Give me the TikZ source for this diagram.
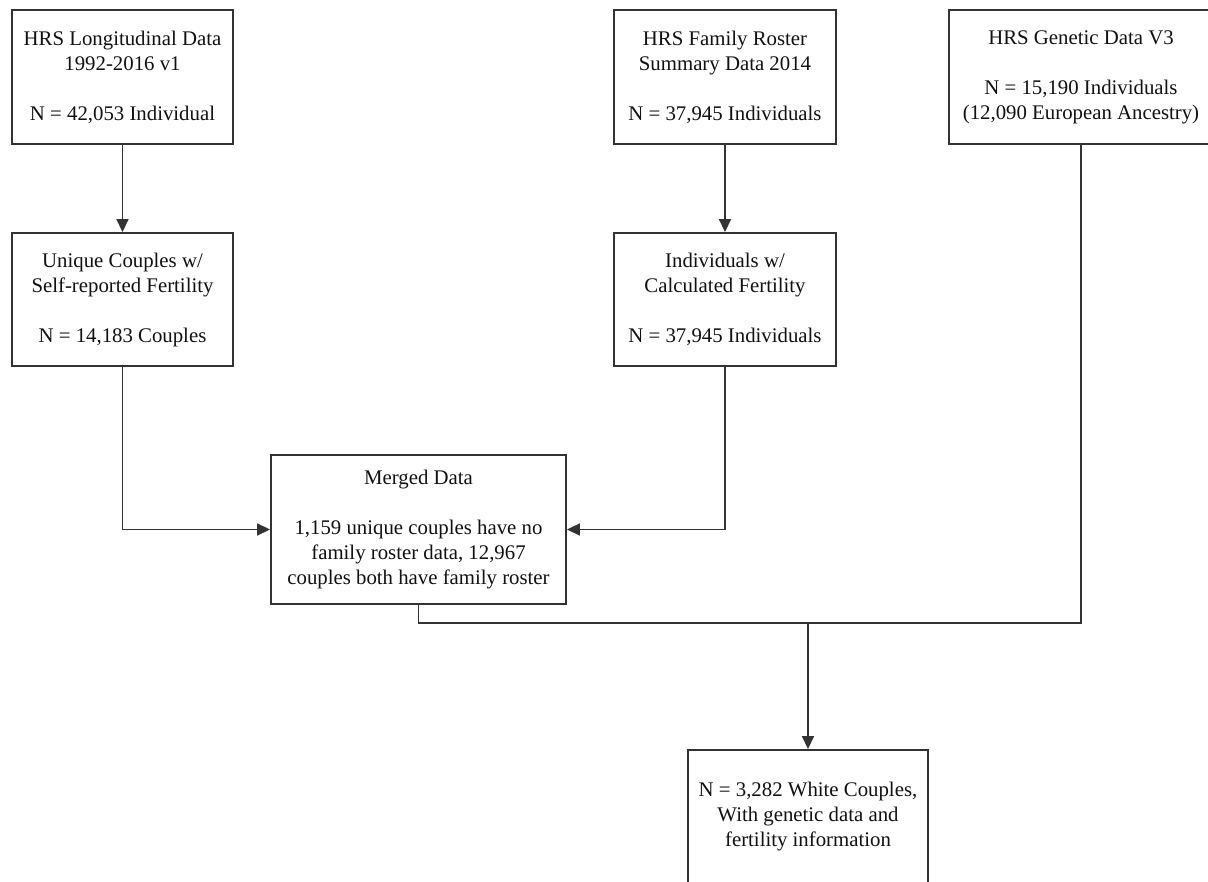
\documentclass[tikz,border=0pt]{standalone}
\usepackage{fontspec}
\setmainfont{Liberation Serif}
\usetikzlibrary{arrows.meta}
\definecolor{linec}{HTML}{333333}
\definecolor{textc}{HTML}{111111}
\tikzset{
  box/.style={draw=linec, line width=1.9pt, fill=white, align=center, inner sep=0pt,
    text=textc, font=\fontsize{20.8}{25}\selectfont},
  conn/.style={draw=linec, line width=1.7pt},
  arr/.style={conn, -{Triangle[width=12pt,length=13pt]}}
}
\begin{document}
\begin{tikzpicture}[x=1pt,y=-1pt]
\clip (0,0) rectangle (1208,882);
\fill[white] (0,0) rectangle (1208,882);
\node[box, minimum width=221pt, minimum height=134pt] (b1) at (122.5,77)
  {HRS Longitudinal Data\\1992-2016 v1\\[25pt]N = 42,053 Individual};
\node[box, minimum width=222pt, minimum height=134pt] (b2) at (725,77)
  {HRS Family Roster\\Summary Data 2014\\[25pt]N = 37,945 Individuals};
\node[box, minimum width=264pt, minimum height=134pt] (b3) at (1081,77)
  {HRS Genetic Data V3\\[25pt]N = 15,190 Individuals\\(12,090 European Ancestry)};
\node[box, minimum width=221pt, minimum height=133pt] (b4) at (122.5,299.5)
  {Unique Couples w/\\Self-reported Fertility\\[25pt]N = 14,183 Couples};
\node[box, minimum width=222pt, minimum height=133pt] (b5) at (725,299.5)
  {Individuals w/\\Calculated Fertility\\[25pt]N = 37,945 Individuals};
\node[box, minimum width=295pt, minimum height=149pt] (m) at (418.5,529.5)
  {Merged Data\\[25pt]1,159 unique couples have no\\family roster data, 12,967\\couples both have family roster};
\node[box, minimum width=240pt, minimum height=134pt] (f) at (808,817)
  {N = 3,282 White Couples,\\With genetic data and\\fertility information};
\coordinate (jm) at (808,623);
\draw[arr] (b1.south) -- (b4.north);
\draw[arr] (b2.south) -- (b5.north);
\draw[arr] (b4.south) |- (m.west);
\draw[arr] (b5.south) |- (m.east);
\draw[conn] (m.south) -- (m.south |- jm) -- (b3.south |- jm) -- (b3.south);
\draw[arr] (jm) -- (f.north);
\end{tikzpicture}
\end{document}
